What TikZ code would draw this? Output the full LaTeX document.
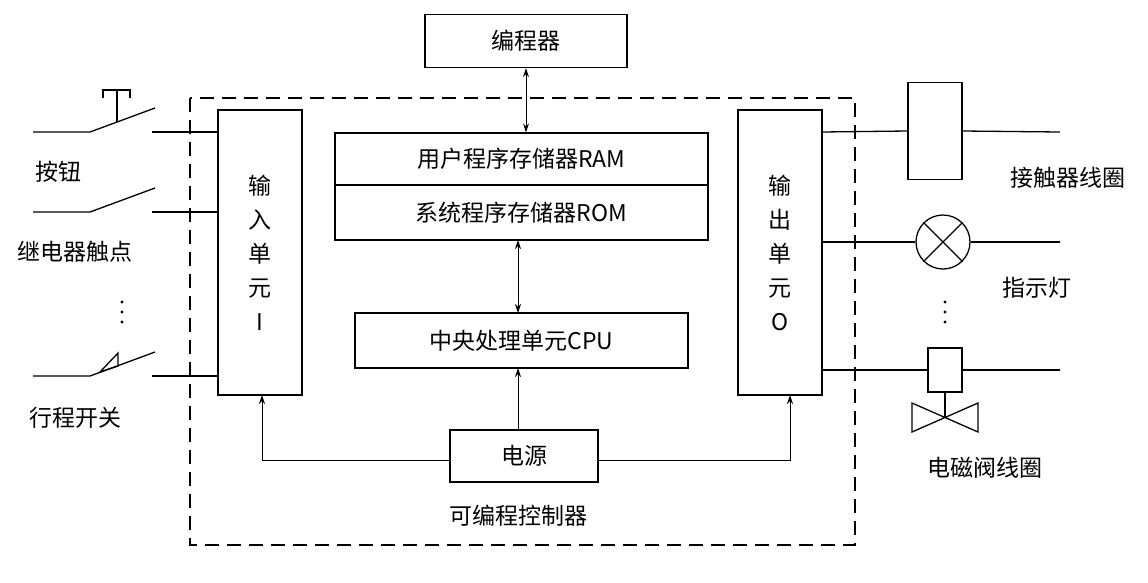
\documentclass[tikz,border=0pt]{standalone}
\usepackage{fontspec}
\setmainfont{Noto Sans CJK SC}
\usetikzlibrary{arrows.meta}
\begin{document}
\begin{tikzpicture}[x=1pt,y=-1pt,line width=1.3pt,
  box/.style={draw,inner sep=0pt,font=\fontsize{23}{26}\selectfont},
  lbl/.style={font=\fontsize{23}{26}\selectfont,inner sep=0pt},
  arr/.style={-{Stealth[length=9pt,width=6pt]}},
  darr/.style={{Stealth[length=9pt,width=6pt]}-{Stealth[length=9pt,width=6pt]}}]
\useasboundingbox (0,0) rectangle (1148,582);
\draw[dash pattern=on 14pt off 8pt,line width=1.6pt] (190,98) rectangle (855,545);
\node[box,minimum width=202pt,minimum height=53pt] (prog) at (526,41) {编程器};
\node[box,minimum width=84pt,minimum height=285pt,align=center,font=\fontsize{23}{34}\selectfont] (in) at (260,252.5) {输\\入\\单\\元\\I};
\node[box,minimum width=84pt,minimum height=285pt,align=center,font=\fontsize{23}{34}\selectfont] (out) at (780,252.5) {输\\出\\单\\元\\O};
\node[box,minimum width=373pt,minimum height=52pt] (ram) at (521.5,159) {用户程序存储器RAM};
\node[box,minimum width=373pt,minimum height=55pt] (rom) at (521.5,212.5) {系统程序存储器ROM};
\node[box,minimum width=333pt,minimum height=55pt] (cpu) at (521.5,340.5) {中央处理单元CPU};
\node[box,minimum width=148pt,minimum height=52pt] (pwr) at (524,456) {电源};
\node[lbl] (plc) at (518,516) {可编程控制器};
\draw[darr,line width=1pt] (prog.south) -- (prog.south |- ram.north);
\draw[darr,line width=1pt] (518,240) -- (518,313);
\draw[arr,line width=1pt] (518,430) -- (518,368);
\coordinate (pl) at (262,460); \coordinate (pr) at (790,460);
\draw[arr,line width=1pt] (pwr.west |- pl) -- (pl) -- (262,395);
\draw[arr,line width=1pt] (pwr.east |- pr) -- (pr) -- (790,395);
% left switches
\foreach \y in {132,212,376}{
  \draw (33,\y) -- (90,\y) -- (155,\y-24);
  \draw (152,\y) -- (218,\y);}
\draw (117,122) -- (117,90) (103,98) -- (103,90) -- (130,90) -- (130,98);
\draw (100,372) -- (118,353) -- (118,366) -- cycle;
\node[lbl] (an) at (58,172) {按钮};
\node[lbl] (jd) at (75,252) {继电器触点};
\node[lbl] (xc) at (75,418) {行程开关};
\foreach \y in {302,312,322}{\fill (122,\y) circle (1.6pt); \fill (945,\y) circle (1.6pt);}
% right loads
\node[draw,minimum width=54pt,minimum height=97pt,inner sep=0pt] (coil) at (935,131) {};
\draw (822,132) -- (coil.west) (coil.east) -- (1060,132);
\node[draw,circle,minimum size=54pt,inner sep=0pt] (lamp) at (943,242) {};
\draw (lamp.45) -- (lamp.225) (lamp.135) -- (lamp.-45);
\draw (822,242) -- (lamp.west) (lamp.east) -- (1060,242);
\node[draw,minimum width=34pt,minimum height=44pt,inner sep=0pt] (vb) at (945,370) {};
\draw (822,370) -- (vb.west) (vb.east) -- (1060,370);
\draw (vb.south) -- (945,417);
\draw (912,403) -- (912,432) -- (978,403) -- (978,432) -- cycle;
\node[lbl] (jc) at (1068,178) {接触器线圈};
\node[lbl] (zs) at (1037,288) {指示灯};
\node[lbl] (dc) at (985,468) {电磁阀线圈};
\end{tikzpicture}
\end{document}
